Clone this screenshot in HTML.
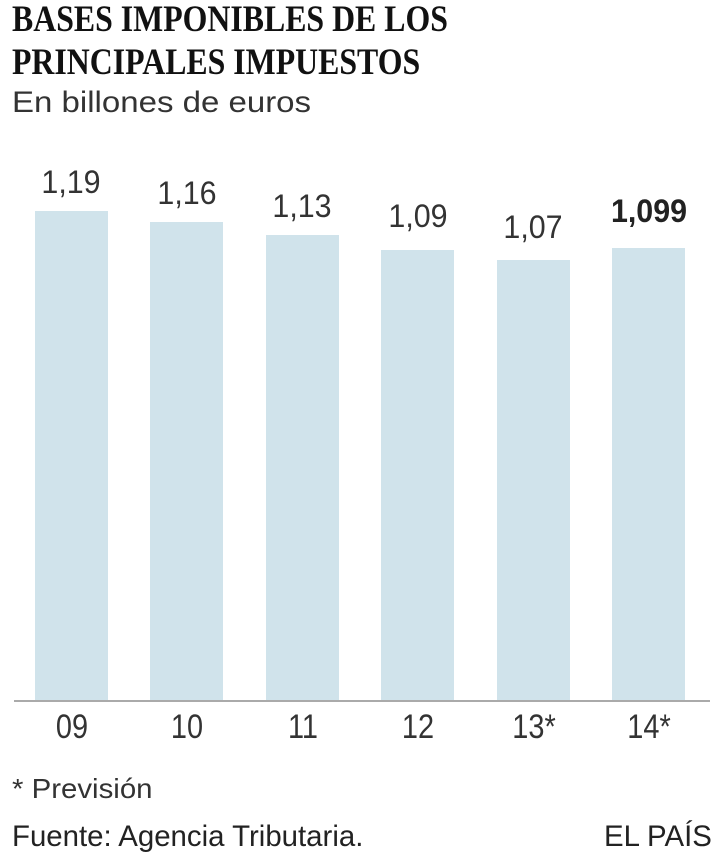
<!DOCTYPE html>
<html><head><meta charset="utf-8"><style>
body{margin:0;width:720px;height:864px;background:#fff;position:relative;overflow:hidden;font-family:"Liberation Sans",sans-serif;color:#222}
.t{position:absolute;white-space:nowrap;transform-origin:0 0}
.bar{position:absolute;background:#d0e3eb;width:73px}
.v{position:absolute;width:140px;text-align:center;font-size:32px;transform:scaleX(.95);color:#333}
.x{position:absolute;width:140px;text-align:center;font-size:34px;transform:scaleX(.85);color:#333;top:708px}
</style></head><body>
<div class="t" style="left:12px;top:-2px;font-family:'Liberation Serif',serif;font-weight:bold;font-size:37px;line-height:43px;transform:scaleX(.86);color:#111">BASES IMPONIBLES DE LOS<br>PRINCIPALES IMPUESTOS</div>
<div class="t" style="left:12px;top:86px;font-size:30px;transform:scaleX(1.1);color:#333">En billones de euros</div>

<div class="bar" style="left:35px;top:211px;height:490px"></div>
<div class="bar" style="left:150px;top:222px;height:479px"></div>
<div class="bar" style="left:266px;top:235px;height:466px"></div>
<div class="bar" style="left:381px;top:250px;height:451px"></div>
<div class="bar" style="left:497px;top:260px;height:441px"></div>
<div class="bar" style="left:612px;top:248px;height:453px"></div>
<div style="position:absolute;left:14px;top:700px;width:696px;height:2px;background:#aaa"></div>

<div class="v" style="left:1px;top:164px">1,19</div>
<div class="v" style="left:117px;top:175px">1,16</div>
<div class="v" style="left:232px;top:188px">1,13</div>
<div class="v" style="left:348px;top:198px">1,09</div>
<div class="v" style="left:463px;top:209px">1,07</div>
<div class="v" style="left:579px;top:193px;font-weight:bold;color:#222">1,099</div>

<div class="x" style="left:2px">09</div>
<div class="x" style="left:117px">10</div>
<div class="x" style="left:233px">11</div>
<div class="x" style="left:348px">12</div>
<div class="x" style="left:464px">13*</div>
<div class="x" style="left:579px">14*</div>

<div class="t" style="left:12px;top:773px;font-size:28px;transform:scaleX(1.05);color:#333">* Previsión</div>
<div class="t" style="left:12px;top:820px;font-size:30px;transform:scaleX(.98);color:#222">Fuente: Agencia Tributaria.</div>
<div class="t" style="left:604px;top:820px;font-size:30px;transform:scaleX(.98);color:#222">EL PAÍS</div>
</body></html>
